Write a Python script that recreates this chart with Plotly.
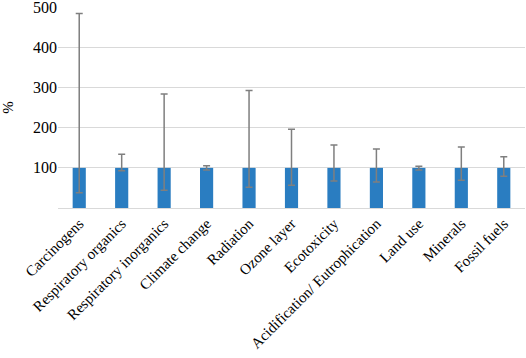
import plotly.graph_objects as go

categories = ["Carcinogens", "Respiratory organics", "Respiratory inorganics", "Climate change",
              "Radiation", "Ozone layer", "Ecotoxicity", "Acidification/ Eutrophication",
              "Land use", "Minerals", "Fossil fuels"]
values = [100, 100, 100, 100, 100, 100, 100, 100, 100, 100, 100]
upper = [485, 134, 284, 105, 293, 196, 157, 147, 104, 152, 128]
lower = [38, 93, 44, 95, 52, 57, 67, 65, 95, 69, 79]

err_plus = [u - v for u, v in zip(upper, values)]
err_minus = [v - l for v, l in zip(values, lower)]

serif = "'Liberation Serif', 'Times New Roman', serif"

fig = go.Figure(go.Bar(
    x=categories, y=values,
    marker=dict(color="#2A7DC1", line=dict(width=0)),
    error_y=dict(type="data", symmetric=False, array=err_plus, arrayminus=err_minus,
                 color="#7F7F7F", thickness=1.5, width=3.5),
))

fig.update_layout(
    width=526, height=358,
    margin=dict(l=58, r=1, t=7, b=150),
    paper_bgcolor="white", plot_bgcolor="white",
    bargap=0.69,
    showlegend=False,
    font=dict(family=serif, color="black"),
    xaxis=dict(tickangle=-45, tickfont=dict(size=15, family=serif), showline=True, linecolor="#D9D9D9",
               linewidth=1, ticks="", showgrid=False, automargin=False),
    yaxis=dict(range=[0, 501], tickvals=[100, 200, 300, 400, 500],
               tickfont=dict(size=16, family=serif), ticklabeloverflow="allow",
               showgrid=True, gridcolor="#D9D9D9", gridwidth=1, zeroline=False,
               title=dict(text="%", font=dict(size=15, family=serif), standoff=18), ticks="",
               automargin=False),
)

fig.write_html("out.html", config={"displayModeBar": False},
               post_script="document.body.style.margin='0';")
